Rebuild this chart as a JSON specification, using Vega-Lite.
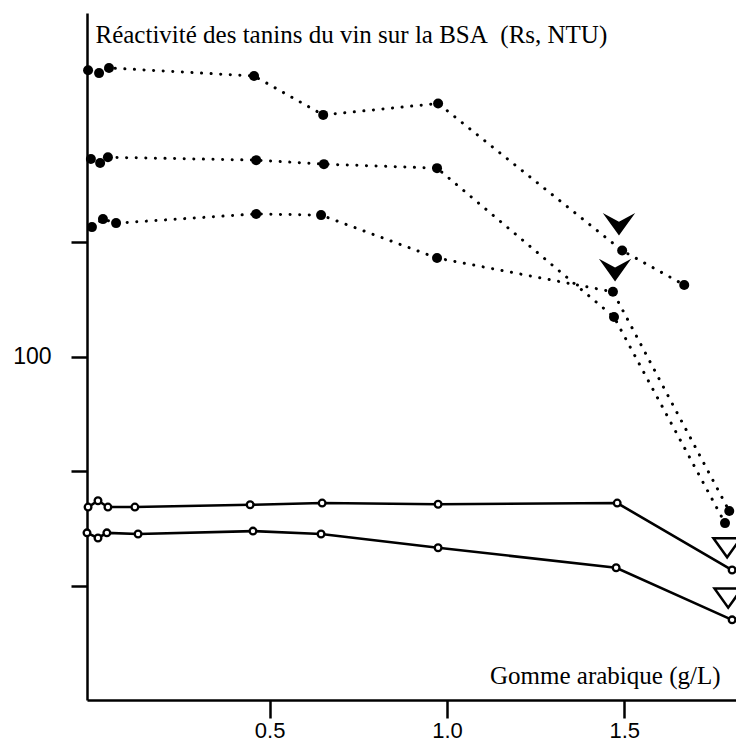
{
  "$schema": "https://vega.github.io/schema/vega-lite/v6.json",
  "autosize": {"type": "none"},
  "padding": {"left": 87, "top": 13, "right": 0, "bottom": 45},
  "width": 649,
  "height": 687,
  "background": "white",
  "config": {
    "view": {"stroke": null},
    "axis": {
      "domainColor": "black", "domainWidth": 2.5, "tickColor": "black", "tickWidth": 2.5,
      "labelColor": "black", "labelFont": "Liberation Sans", "labelFontSize": 23,
      "titleColor": "black", "titleFont": "Liberation Serif", "titleFontSize": 25, "titleFontWeight": "normal",
      "grid": false
    }
  },
  "datasets": {
    "filled": [
      {"s": "A", "x": -0.012, "y": 150.0}, {"s": "A", "x": 0.019, "y": 149.5}, {"s": "A", "x": 0.047, "y": 150.4},
      {"s": "A", "x": 0.456, "y": 149.0}, {"s": "A", "x": 0.651, "y": 142.2}, {"s": "A", "x": 0.975, "y": 144.2},
      {"s": "A", "x": 1.494, "y": 118.5}, {"s": "A", "x": 1.669, "y": 112.5},
      {"s": "B", "x": -0.004, "y": 134.5}, {"s": "B", "x": 0.022, "y": 133.8}, {"s": "B", "x": 0.044, "y": 134.8},
      {"s": "B", "x": 0.462, "y": 134.3}, {"s": "B", "x": 0.653, "y": 133.6}, {"s": "B", "x": 0.972, "y": 132.9},
      {"s": "B", "x": 1.471, "y": 106.9}, {"s": "B", "x": 1.784, "y": 70.9},
      {"s": "C", "x": -0.001, "y": 122.6}, {"s": "C", "x": 0.030, "y": 124.0}, {"s": "C", "x": 0.067, "y": 123.3},
      {"s": "C", "x": 0.462, "y": 124.9}, {"s": "C", "x": 0.645, "y": 124.7}, {"s": "C", "x": 0.972, "y": 117.2},
      {"s": "C", "x": 1.468, "y": 111.3}, {"s": "C", "x": 1.796, "y": 73.0}
    ],
    "open": [
      {"s": "D", "x": -0.012, "y": 73.7}, {"s": "D", "x": 0.016, "y": 74.8}, {"s": "D", "x": 0.044, "y": 73.7},
      {"s": "D", "x": 0.120, "y": 73.7}, {"s": "D", "x": 0.445, "y": 74.1}, {"s": "D", "x": 0.648, "y": 74.4},
      {"s": "D", "x": 0.975, "y": 74.2}, {"s": "D", "x": 1.480, "y": 74.4}, {"s": "D", "x": 1.804, "y": 62.7},
      {"s": "E", "x": -0.015, "y": 69.2}, {"s": "E", "x": 0.016, "y": 68.3}, {"s": "E", "x": 0.041, "y": 69.2},
      {"s": "E", "x": 0.129, "y": 69.0}, {"s": "E", "x": 0.453, "y": 69.5}, {"s": "E", "x": 0.645, "y": 69.0},
      {"s": "E", "x": 0.975, "y": 66.6}, {"s": "E", "x": 1.477, "y": 63.1}, {"s": "E", "x": 1.804, "y": 54.0}
    ],
    "chevrons": [
      {"x": 1.485, "y": 123.1}, {"x": 1.474, "y": 115.1}
    ],
    "triangles": [
      {"x": 1.790, "y": 66.6}, {"x": 1.793, "y": 57.8}
    ]
  },
  "layer": [
    {
      "data": {"name": "filled"},
      "mark": {"type": "line", "color": "black", "strokeWidth": 3, "strokeDash": [0.1, 9.5], "strokeCap": "round"},
      "encoding": {
        "x": {"field": "x", "type": "quantitative", "scale": {"domain": [-0.015, 1.815], "nice": false, "zero": false},
          "axis": {"values": [0.5, 1.0, 1.5], "format": ".1f", "tickSize": 18, "labelPadding": 2, "labelFontSize": 22,
            "title": "Gomme arabique (g/L)", "titleX": 633, "titleY": -17, "titleAlign": "right", "titleBaseline": "alphabetic", "titleAngle": 0}},
        "y": {"field": "y", "type": "quantitative", "scale": {"domain": [40, 160], "nice": false, "zero": false},
          "axis": {"values": [60, 80, 100, 120], "labelExpr": "datum.value === 100 ? '100' : ''", "tickSize": 16, "labelPadding": 20,
            "title": "Réactivité des tanins du vin sur la BSA\u00a0 (Rs, NTU)", "titleAngle": 0, "titleX": 8, "titleY": 29,
            "titleAlign": "left", "titleBaseline": "alphabetic"}},
        "detail": {"field": "s"}
      }
    },
    {
      "data": {"name": "open"},
      "mark": {"type": "line", "color": "black", "strokeWidth": 2.6},
      "encoding": {
        "x": {"field": "x", "type": "quantitative"},
        "y": {"field": "y", "type": "quantitative"},
        "detail": {"field": "s"}
      }
    },
    {
      "data": {"name": "filled"},
      "mark": {"type": "point", "shape": "circle", "filled": true, "color": "black", "size": 100, "opacity": 1},
      "encoding": {
        "x": {"field": "x", "type": "quantitative"},
        "y": {"field": "y", "type": "quantitative"}
      }
    },
    {
      "data": {"name": "open"},
      "mark": {"type": "point", "shape": "circle", "filled": true, "fill": "white", "stroke": "black", "strokeWidth": 2.3, "size": 45, "opacity": 1},
      "encoding": {
        "x": {"field": "x", "type": "quantitative"},
        "y": {"field": "y", "type": "quantitative"}
      }
    },
    {
      "data": {"name": "chevrons"},
      "mark": {"type": "point", "shape": "M-1,-0.7L0,-0.15L1,-0.7L0,0.7Z", "filled": true, "color": "black", "size": 1050, "opacity": 1},
      "encoding": {
        "x": {"field": "x", "type": "quantitative"},
        "y": {"field": "y", "type": "quantitative"}
      }
    },
    {
      "data": {"name": "triangles"},
      "mark": {"type": "point", "shape": "M-1,-0.7L1,-0.7L0,0.7Z", "filled": false, "color": "black", "strokeWidth": 2.5, "size": 750, "opacity": 1},
      "encoding": {
        "x": {"field": "x", "type": "quantitative"},
        "y": {"field": "y", "type": "quantitative"}
      }
    },
    {
      "mark": {"type": "rule", "color": "black", "strokeWidth": 2.5},
      "encoding": {"y": {"datum": 160, "type": "quantitative"}}
    }
  ]
}
